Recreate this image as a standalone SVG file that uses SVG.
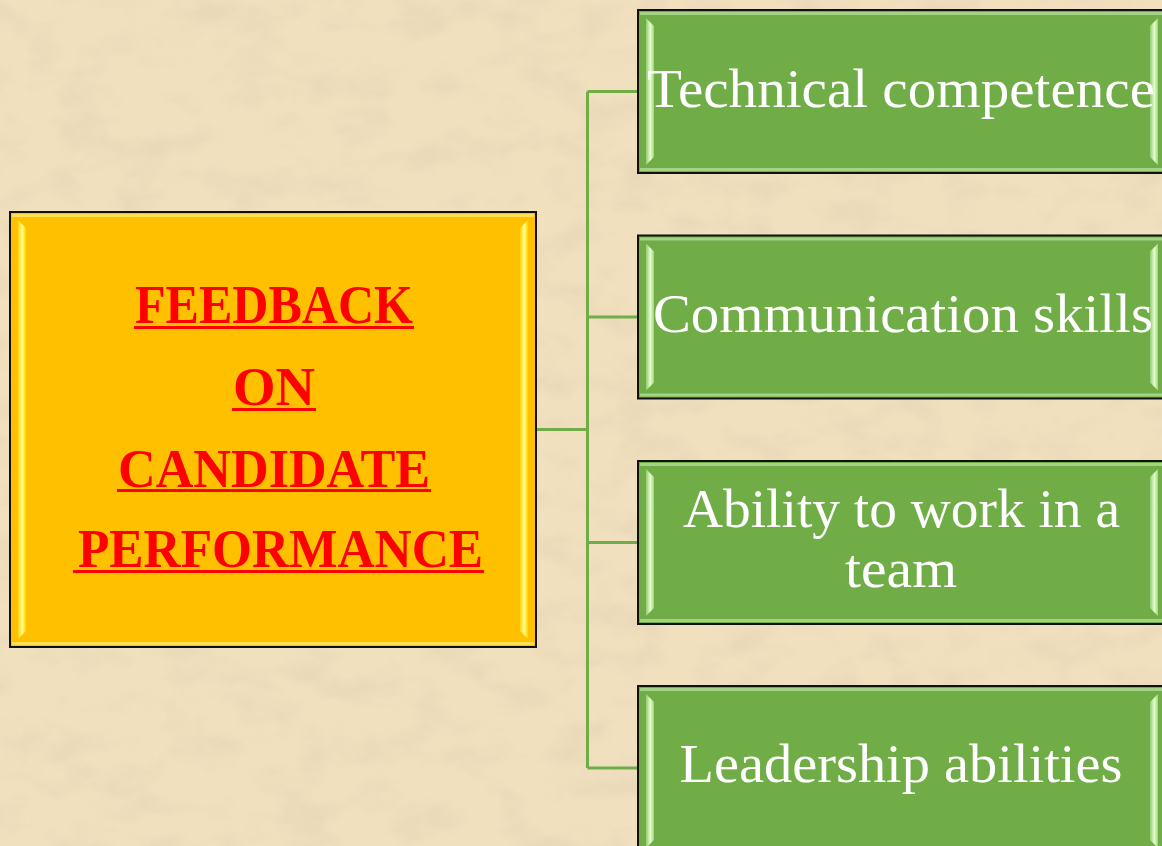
<svg xmlns="http://www.w3.org/2000/svg" width="1162" height="846" viewBox="0 0 1162 846">
  <defs>
    <filter id="parch" x="0" y="0" width="100%" height="100%">
      <feTurbulence type="fractalNoise" baseFrequency="0.018 0.03" numOctaves="4" seed="7" result="n"/>
      <feColorMatrix in="n" type="matrix" values="0 0 0 0 0.78  0 0 0 0 0.66  0 0 0 0 0.47  0 0 0 -2.4 1.35" result="spots"/>
      <feComposite in="spots" in2="SourceGraphic" operator="in"/>
    </filter>
    <linearGradient id="ySide" x1="0" y1="0" x2="1" y2="0">
      <stop offset="0" stop-color="#FFD21A"/>
      <stop offset="0.55" stop-color="#FFFF80"/>
      <stop offset="1" stop-color="#FFD000"/>
    </linearGradient>
    <linearGradient id="gSide" x1="0" y1="0" x2="1" y2="0">
      <stop offset="0" stop-color="#93CB70"/>
      <stop offset="0.55" stop-color="#E4FFCC"/>
      <stop offset="1" stop-color="#9DD47C"/>
    </linearGradient>
    <style>
      .frame { stroke:#111; stroke-width:2; }
      .yfill { fill:#FFC000; }
      .gfill { fill:#70AD47; }
      .yedge { fill:#FFE566; opacity:0.8; }
      .gedge { fill:#C8EDB0; opacity:0.6; }
      .ys { fill:url(#ySide); }
      .gs { fill:url(#gSide); }
      .conn { stroke:#70AD47; stroke-width:3; fill:none; }
      .hd { font-family:"Liberation Serif", "Times New Roman", serif; font-weight:bold; font-size:54px; fill:#FF0000; text-anchor:middle; }
      .ul { fill:#FF0000; }
      .lb { font-family:"Liberation Serif", "Times New Roman", serif; font-size:54px; fill:#FFFFFF; text-anchor:middle; }
    </style>
  </defs>

  <g id="background">
    <rect x="0" y="0" width="1162" height="846" fill="#F1E0BE"/>
    <rect x="0" y="0" width="1162" height="846" fill="#F1E0BE" filter="url(#parch)" opacity="0.65"/>
  </g>

  <g id="connectors">
    <path class="conn" d="M536 429.5 H587.5 M587.5 91.5 V768 M587.5 91.5 H638 M587.5 317 H638 M587.5 542.5 H638 M587.5 768 H638"/>
  </g>

  <g id="node-feedback">
    <rect class="yfill frame" x="10" y="212" width="526" height="435"/>
    <rect class="yedge" x="12" y="214" width="522" height="3"/>
    <rect class="yedge" x="12" y="642" width="522" height="3"/>
    <polygon class="ys" points="18,220 26,228 26,631 18,639"/>
    <polygon class="ys" points="528,220 520,228 520,631 528,639"/>
    <text class="hd" x="274" y="323" textLength="278" lengthAdjust="spacingAndGlyphs">FEEDBACK</text>
    <rect class="ul" x="134" y="326" width="280" height="3"/>
    <text class="hd" x="274" y="405" textLength="82" lengthAdjust="spacingAndGlyphs">ON</text>
    <rect class="ul" x="232" y="408" width="84" height="3"/>
    <text class="hd" x="274" y="487" textLength="312" lengthAdjust="spacingAndGlyphs">CANDIDATE</text>
    <rect class="ul" x="117" y="489" width="314" height="3"/>
    <text class="hd" x="280.5" y="567" textLength="405" lengthAdjust="spacingAndGlyphs">PERFORMANCE</text>
    <rect class="ul" x="73" y="570" width="411" height="3"/>
  </g>

  <g id="node-technical">
    <rect class="gfill frame" x="638" y="10" width="528" height="163"/>
    <rect class="gedge" x="640" y="12" width="524" height="3"/>
    <rect class="gedge" x="640" y="168" width="524" height="3"/>
    <polygon class="gs" points="646,18 654,26 654,157 646,165"/>
    <polygon class="gs" points="1158,18 1150,26 1150,157 1158,165"/>
    <text class="lb" x="901" y="107" textLength="508" lengthAdjust="spacingAndGlyphs">Technical competence</text>
  </g>

  <g id="node-communication">
    <rect class="gfill frame" x="638" y="235.5" width="528" height="163"/>
    <rect class="gedge" x="640" y="237.5" width="524" height="3"/>
    <rect class="gedge" x="640" y="393.5" width="524" height="3"/>
    <polygon class="gs" points="646,243.5 654,251.5 654,382.5 646,390.5"/>
    <polygon class="gs" points="1158,243.5 1150,251.5 1150,382.5 1158,390.5"/>
    <text class="lb" x="903" y="332" textLength="500" lengthAdjust="spacingAndGlyphs">Communication skills</text>
  </g>

  <g id="node-teamwork">
    <rect class="gfill frame" x="638" y="461" width="528" height="163"/>
    <rect class="gedge" x="640" y="463" width="524" height="3"/>
    <rect class="gedge" x="640" y="619" width="524" height="3"/>
    <polygon class="gs" points="646,469 654,477 654,608 646,616"/>
    <polygon class="gs" points="1158,469 1150,477 1150,608 1158,616"/>
    <text class="lb" x="901.5" y="527" textLength="437" lengthAdjust="spacingAndGlyphs">Ability to work in a</text>
    <text class="lb" x="901" y="587" textLength="112" lengthAdjust="spacingAndGlyphs">team</text>
  </g>

  <g id="node-leadership">
    <rect class="gfill frame" x="638" y="686" width="528" height="170"/>
    <rect class="gedge" x="640" y="688" width="524" height="3"/>
    <polygon class="gs" points="646,694 654,702 654,840 646,848"/>
    <polygon class="gs" points="1158,694 1150,702 1150,840 1158,848"/>
    <text class="lb" x="901" y="782" textLength="443" lengthAdjust="spacingAndGlyphs">Leadership abilities</text>
  </g>
</svg>
